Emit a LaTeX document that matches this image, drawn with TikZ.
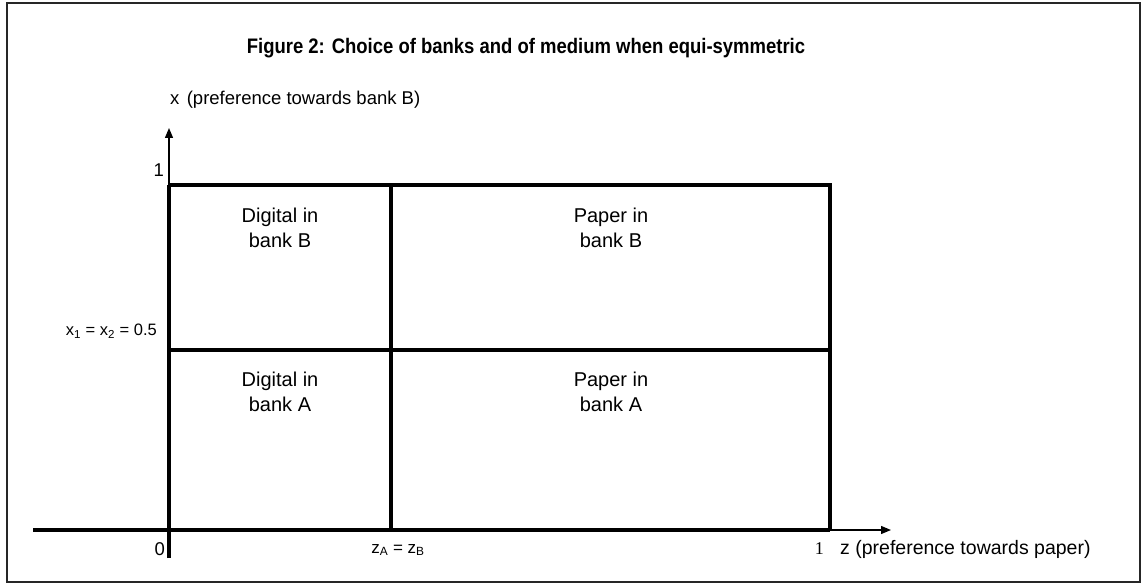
\documentclass[tikz,border=0pt]{standalone}
\usepackage{fontspec}
\setmainfont{Liberation Sans}
\newfontfamily\serifnum{Liberation Serif}
\newfontfamily\titlefont{Liberation Sans}[FakeStretch=0.88]
\usetikzlibrary{arrows.meta}
\begin{document}
\begin{tikzpicture}[x=1pt,y=-1pt,
  thickln/.style={line width=3.5pt},
  thinln/.style={line width=1.3pt},
  lbl/.style={font=\fontsize{18.5}{22}\selectfont, inner sep=0pt},
  cell/.style={inner sep=0pt, align=center, font=\fontsize{20}{25}\selectfont},
  tip/.style={-{Triangle[length=10pt,width=8pt]}}]
\useasboundingbox (0,0) rectangle (1145,585);
\draw[line width=2pt, draw=black!85] (7,3) rectangle (1140,582);
% coordinates
\coordinate (o) at (169,530);
\coordinate (ybot) at (169,558);
\coordinate (ytop) at (169,185);
\coordinate (yarrow) at (169,128);
\coordinate (xleft) at (33,530);
\coordinate (xr) at (830,530);
\coordinate (xarrow) at (891,530);
\coordinate (tl) at (169,185);
\coordinate (tr) at (830,185);
\coordinate (ml) at (169,350);
\coordinate (mr) at (830,350);
\coordinate (dt) at (391,185);
\coordinate (db) at (391,530);
% axes
\draw[thinln,tip] (ytop) -- (yarrow);
\draw[thinln,tip] (xr) -- (xarrow);
\draw[thickln] (xleft) -- (xr);
\draw[thickln] (ybot) -- (ytop);
% rectangle
\draw[thickln] (tl) -- (tr) -- (xr);
\draw[thickln] (ml) -- (mr);
\draw[thickln] (dt) -- (db);
% title
\node[inner sep=0pt, font=\titlefont\bfseries\fontsize{21}{25}\selectfont] (title) at (526,48) {Figure 2: Choice of banks and of medium when equi-symmetric};
\node[lbl, anchor=west] (ylab) at (170,100) {x\hspace{0.4em}(preference towards bank B)};
\node[lbl, anchor=east] (one) at (164,170) {1};
\node[lbl, anchor=east, font=\fontsize{16.5}{20}\selectfont] (half) at (157,331) {x\textsubscript{1} = x\textsubscript{2} = 0.5};
\node[lbl, anchor=east] (zero) at (165,549) {0};
\node[lbl, font=\fontsize{17}{20}\selectfont] (zab) at (398,550) {z\textsubscript{A} = z\textsubscript{B}};
\node[lbl, anchor=east, font=\serifnum\fontsize{18}{22}\selectfont] (onez) at (824,549) {1};
\node[lbl, anchor=west, font=\fontsize{19.5}{23}\selectfont] (zlab) at (840,549) {z (preference towards paper)};
\node[cell] (db1) at (280,228) {Digital in\\bank B};
\node[cell] (pb1) at (611,228) {Paper in\\bank B};
\node[cell] (da1) at (280,392) {Digital in\\bank A};
\node[cell] (pa1) at (611,392) {Paper in\\bank A};
\end{tikzpicture}
\end{document}
